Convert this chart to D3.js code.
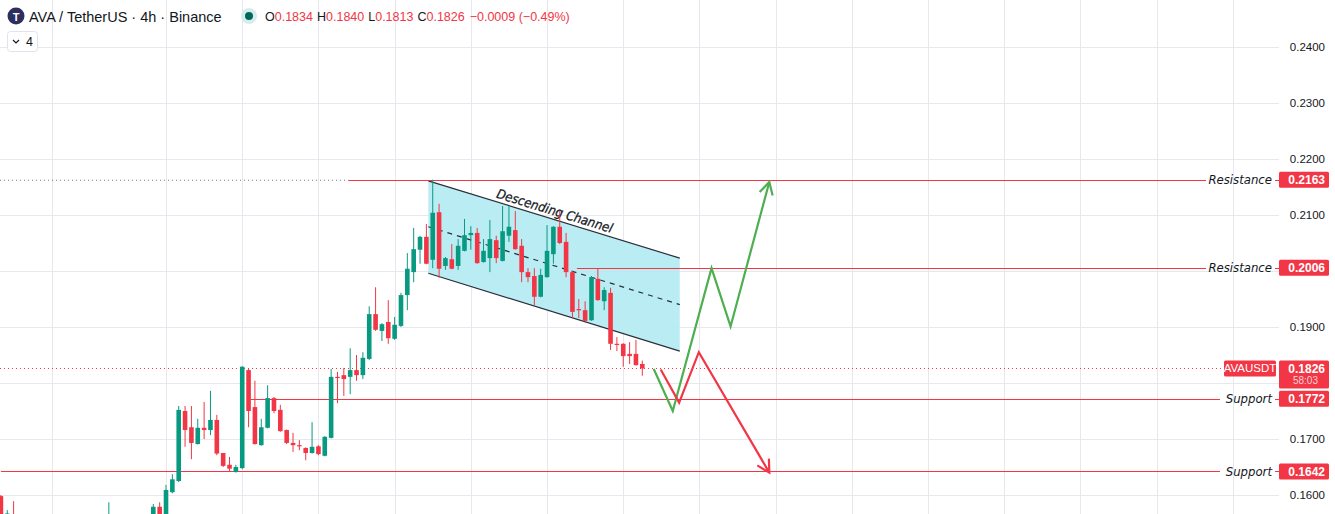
<!DOCTYPE html>
<html>
<head>
<meta charset="utf-8">
<script src="https://cdn.jsdelivr.net/npm/d3@7"></script>
<style>
  body { margin: 0; background: #fff; overflow: hidden; }
  svg { display: block; font-family: "Liberation Sans", Arial, sans-serif; }
</style>
</head>
<body>
<svg id="chart" width="1335" height="514"></svg>
<script>
// candle values, left to right (4h bars)
const opens = [0.1598,0.1561,0.1560,0.1550,0.1540,0.1548,0.1542,0.1535,0.1544,0.1539,0.1546,0.1551,0.1545,0.1549,0.1543,0.1547,0.1541,0.1544,0.1555,0.1548,0.1551,0.1546,0.1553,0.1549,
  0.1554,0.1579,0.1560,0.1605,0.1625,0.1750,0.1721,0.1691,0.1720,0.1716,0.1734,0.1675,0.1654,0.1641,0.1648,0.1823,0.1757,0.1689,0.1720,0.1773,0.1752,0.1716,0.1693,0.1689,0.1684,0.1675,0.1687,0.1670,
  0.1702,0.1811,0.1814,0.1811,0.1823,0.1814,0.1843,0.1923,0.1893,0.1909,0.1879,0.1902,0.1957,0.1998,0.2038,0.2061,0.2020,0.2105,0.2009,0.2021,0.2009,0.2036,0.2064,0.2068,0.2016,0.2023,0.2055,0.2018,
  0.2063,0.2073,0.2045,0.1998,0.1991,0.1954,0.1989,0.2030,0.2079,0.2052,0.1998,0.1932,0.1930,0.1912,0.1986,0.1946,0.1961,0.1870,0.1870,0.1852,0.1852,0.1834];
const highs = [0.1600,0.1573,0.1589,0.1556,0.1552,0.1555,0.1550,0.1546,0.1553,0.1548,0.1557,0.1558,0.1552,0.1556,0.1551,0.1555,0.1550,0.1587,0.1560,0.1556,0.1559,0.1555,0.1560,0.1558,
  0.1584,0.1587,0.1618,0.1637,0.1759,0.1759,0.1759,0.1736,0.1766,0.1786,0.1743,0.1675,0.1668,0.1654,0.1830,0.1825,0.1804,0.1736,0.1796,0.1775,0.1761,0.1717,0.1711,0.1698,0.1685,0.1730,0.1689,0.1705,
  0.1825,0.1820,0.1827,0.1862,0.1850,0.1855,0.1937,0.1971,0.1907,0.1948,0.1918,0.1961,0.2032,0.2077,0.2063,0.2084,0.2163,0.2120,0.2025,0.2048,0.2057,0.2093,0.2080,0.2077,0.2057,0.2091,0.2063,0.2116,
  0.2116,0.2107,0.2057,0.2005,0.2005,0.2004,0.2082,0.2080,0.2107,0.2068,0.2000,0.1950,0.1946,0.1991,0.2004,0.1971,0.1970,0.1882,0.1871,0.1873,0.1877,0.1840];
const lows = [0.1556,0.1552,0.1545,0.1535,0.1532,0.1538,0.1530,0.1528,0.1536,0.1531,0.1540,0.1541,0.1537,0.1540,0.1534,0.1539,0.1533,0.1540,0.1542,0.1538,0.1543,0.1539,0.1545,0.1542,
  0.1550,0.1555,0.1555,0.1603,0.1623,0.1686,0.1664,0.1690,0.1700,0.1707,0.1671,0.1650,0.1643,0.1640,0.1646,0.1721,0.1690,0.1688,0.1719,0.1746,0.1713,0.1691,0.1677,0.1680,0.1662,0.1674,0.1671,0.1669,
  0.1701,0.1764,0.1777,0.1780,0.1804,0.1807,0.1841,0.1893,0.1875,0.1870,0.1877,0.1900,0.1930,0.1980,0.2013,0.2012,0.2005,0.1988,0.2002,0.2003,0.2002,0.2035,0.2038,0.2013,0.2015,0.1998,0.2014,0.2017,
  0.2052,0.2038,0.1980,0.1980,0.1939,0.1953,0.1988,0.2013,0.2048,0.1989,0.1916,0.1916,0.1910,0.1911,0.1947,0.1930,0.1859,0.1857,0.1829,0.1834,0.1831,0.1813];
const closes = [0.1562,0.1567,0.1550,0.1540,0.1548,0.1542,0.1535,0.1544,0.1539,0.1546,0.1551,0.1545,0.1549,0.1543,0.1547,0.1541,0.1544,0.1555,0.1548,0.1551,0.1546,0.1553,0.1549,0.1554,
  0.1579,0.1560,0.1609,0.1628,0.1752,0.1716,0.1693,0.1720,0.1716,0.1734,0.1674,0.1652,0.1647,0.1650,0.1829,0.1750,0.1691,0.1721,0.1773,0.1750,0.1714,0.1693,0.1689,0.1688,0.1675,0.1686,0.1673,0.1704,
  0.1811,0.1809,0.1807,0.1823,0.1814,0.1845,0.1923,0.1895,0.1905,0.1880,0.1904,0.1957,0.2004,0.2039,0.2061,0.2013,0.2104,0.2004,0.2023,0.2004,0.2045,0.2064,0.2068,0.2014,0.2036,0.2057,0.2023,0.2071,
  0.2079,0.2039,0.1998,0.1989,0.1954,0.1993,0.2036,0.2079,0.2050,0.1998,0.1927,0.1930,0.1911,0.1989,0.1948,0.1966,0.1870,0.1868,0.1848,0.1848,0.1832,0.1826];

const priceTicks = [0.16, 0.17, 0.18, 0.19, 0.20, 0.21, 0.22, 0.23, 0.24];
const timeGridBars = [8, 26, 38, 50, 62, 74, 86, 98, 110, 122, 134, 146, 158, 170, 182, 194];

// drawings: [bar index, price]
const levels = [
  { price: 0.2163, from: 54.7, label: "Resistance" },
  { price: 0.2006, from: 90.7, label: "Resistance" },
  { price: 0.1772, from: 39.3, label: "Support" },
  { price: 0.1642, from: 0, label: "Support" }
];
const channelTop = [[67.3, 0.2161], [106.9, 0.2023]];
const channelBottom = [[67.3, 0.1996], [106.9, 0.1857]];
const channelMid = [[67.3, 0.2079], [106.9, 0.1940]];
const bullPath = [[102.8, 0.1825], [105.8, 0.1750], [111.9, 0.2005], [114.9, 0.1901], [121.0, 0.2159]];
const bearPath = [[103.9, 0.1824], [106.8, 0.1765], [109.9, 0.1855], [121.0, 0.1640]];
const lastPrice = 0.1826;

const W = 1335, H = 514, plotRight = 1279;
const GREEN = "#089981", RED = "#f23645", GRID = "#e6e8ee", TEXT = "#131722";
const ITALIC_FONT = "DejaVu Sans Condensed, DejaVu Sans";

const x = d3.scaleLinear().domain([0, 101]).range([0.9, 642.3]);
const y = d3.scaleLinear().domain([0.16, 0.24]).range([495, 47]);

const svg = d3.select("#chart");
svg.append("defs").append("clipPath").attr("id", "plot")
  .append("rect").attr("width", plotRight).attr("height", H);

const plot = svg.append("g").attr("clip-path", "url(#plot)");

// grid
plot.selectAll(".hg").data(priceTicks).enter().append("line")
  .attr("x1", 0).attr("x2", plotRight)
  .attr("y1", d => y(d) + 0.5).attr("y2", d => y(d) + 0.5)
  .attr("stroke", GRID);
plot.selectAll(".vg").data(timeGridBars).enter().append("line")
  .attr("x1", d => Math.round(x(d)) + 0.5).attr("x2", d => Math.round(x(d)) + 0.5)
  .attr("y1", 0).attr("y2", H)
  .attr("stroke", GRID);

// channel
const line = d3.line().x(d => x(d[0])).y(d => y(d[1]));
plot.append("path")
  .attr("d", line(channelTop.concat(channelBottom.slice().reverse())) + "Z")
  .attr("fill", "#b2ebf2").attr("fill-opacity", 0.9);
plot.append("path").attr("d", line(channelTop)).attr("stroke", "#2a2e39").attr("stroke-width", 1.2).attr("fill", "none");
plot.append("path").attr("d", line(channelBottom)).attr("stroke", "#2a2e39").attr("stroke-width", 1.2).attr("fill", "none");
plot.append("path").attr("d", line(channelMid)).attr("stroke", "#2a2e39").attr("stroke-width", 1.2)
  .attr("stroke-dasharray", "5,5").attr("fill", "none");
const ang = Math.atan2(y(channelTop[1][1]) - y(channelTop[0][1]), x(channelTop[1][0]) - x(channelTop[0][0])) * 180 / Math.PI;
const cx = x(87), cy = y(channelTop[0][1] + (channelTop[1][1] - channelTop[0][1]) * (87 - 67.3) / 39.6);
plot.append("text")
  .attr("transform", `translate(${cx},${cy - 4}) rotate(${ang})`)
  .attr("text-anchor", "middle").attr("font-size", 13).attr("font-style", "italic")
  .attr("font-family", ITALIC_FONT).attr("fill", TEXT).attr("stroke", TEXT).attr("stroke-width", 0.25)
  .text("Descending Channel");

// reference levels
plot.append("line").attr("x1", 0).attr("x2", x(levels[0].from))
  .attr("y1", y(levels[0].price) + 0.5).attr("y2", y(levels[0].price) + 0.5)
  .attr("stroke", "#787b86").attr("stroke-dasharray", "1,3");
plot.selectAll(".lvl").data(levels).enter().append("line")
  .attr("x1", d => x(d.from)).attr("x2", d => d.label === "Support" ? 1220 : 1206)
  .attr("y1", d => Math.round(y(d.price)) + 0.5).attr("y2", d => Math.round(y(d.price)) + 0.5)
  .attr("stroke", RED);
plot.selectAll(".lvl2").data(levels).enter().append("line")
  .attr("x1", 1275).attr("x2", 1279)
  .attr("y1", d => Math.round(y(d.price)) + 0.5).attr("y2", d => Math.round(y(d.price)) + 0.5)
  .attr("stroke", RED);
plot.selectAll(".lvlt").data(levels).enter().append("text")
  .attr("x", 1272).attr("y", d => y(d.price) + 4.5)
  .attr("text-anchor", "end").attr("font-size", 13).attr("font-style", "italic")
  .attr("font-family", ITALIC_FONT).attr("fill", TEXT)
  .text(d => d.label);
plot.append("line").attr("x1", 0).attr("x2", 1222)
  .attr("y1", Math.round(y(lastPrice)) + 0.5).attr("y2", Math.round(y(lastPrice)) + 0.5)
  .attr("stroke", RED).attr("stroke-dasharray", "1,3");

// candles
const bars = d3.range(opens.length);
const candle = plot.selectAll(".c").data(bars).enter().append("g")
  .attr("fill", i => closes[i] > opens[i] ? GREEN : RED)
  .attr("stroke", i => closes[i] > opens[i] ? GREEN : RED);
candle.append("line")
  .attr("x1", i => x(i)).attr("x2", i => x(i))
  .attr("y1", i => y(highs[i])).attr("y2", i => y(lows[i]))
  .attr("stroke-width", 1);
candle.append("rect")
  .attr("x", i => x(i) - 2.3).attr("width", 4.6)
  .attr("y", i => y(Math.max(opens[i], closes[i])))
  .attr("height", i => Math.max(1.2, Math.abs(y(opens[i]) - y(closes[i]))))
  .attr("stroke", "none");

// projection arrows
function arrow(pts, color) {
  plot.append("path").attr("d", line(pts)).attr("fill", "none")
    .attr("stroke", color).attr("stroke-width", 2.2).attr("stroke-linejoin", "miter");
  const a = pts[pts.length - 2], b = pts[pts.length - 1];
  const dx = x(b[0]) - x(a[0]), dy = y(b[1]) - y(a[1]);
  const th = Math.atan2(dy, dx), len = 14;
  const tip = [x(b[0]), y(b[1])];
  const p1 = [tip[0] - len * Math.cos(th - 0.5), tip[1] - len * Math.sin(th - 0.5)];
  const p2 = [tip[0] - len * Math.cos(th + 0.5), tip[1] - len * Math.sin(th + 0.5)];
  plot.append("path").attr("d", `M${p1}L${tip}L${p2}`).attr("fill", "none")
    .attr("stroke", color).attr("stroke-width", 2.2);
}
arrow(bullPath, "#4caf50");
arrow(bearPath, RED);

// price axis: ticks hidden where a tag covers them
const tags = levels.map(d => d.price).concat([lastPrice]);
const visibleTicks = priceTicks.filter(t => tags.every(p => Math.abs(y(p) - y(t)) > 14));
const axis = svg.append("g");
axis.selectAll("text").data(visibleTicks).enter().append("text")
  .attr("x", 1325).attr("y", d => y(d) + 4).attr("text-anchor", "end")
  .attr("font-size", 11.5).attr("fill", TEXT)
  .text(d => d.toFixed(4));
// last price tag
const ly = y(lastPrice);
axis.append("rect").attr("x", 1279).attr("y", ly - 8).attr("width", 50).attr("height", 28).attr("rx", 1.5).attr("fill", RED);
axis.append("text").attr("x", 1325).attr("y", ly + 4.5).attr("text-anchor", "end")
  .attr("font-size", 12).attr("font-weight", "bold").attr("fill", "#fff").text(lastPrice.toFixed(4));
axis.append("text").attr("x", 1318).attr("y", ly + 15.5).attr("text-anchor", "end")
  .attr("font-size", 10).attr("fill", "#fbd0d4").text("58:03");
axis.append("rect").attr("x", 1224).attr("y", ly - 8).attr("width", 52).attr("height", 16).attr("rx", 1.5).attr("fill", RED);
axis.append("text").attr("x", 1250).attr("y", ly + 4).attr("text-anchor", "middle")
  .attr("font-size", 11.5).attr("fill", "#fff").text("AVAUSDT");
const levelTags = levels.map(d => d.price);
axis.selectAll(".tag").data(levelTags).enter().append("rect")
  .attr("x", 1279).attr("y", d => y(d) - 8).attr("width", 50).attr("height", 16).attr("rx", 1.5)
  .attr("fill", RED);
axis.selectAll(".tagt").data(levelTags).enter().append("text")
  .attr("x", 1325).attr("y", d => y(d) + 4.5).attr("text-anchor", "end")
  .attr("font-size", 12).attr("font-weight", "bold").attr("fill", "#fff")
  .text(d => d.toFixed(4));

// header
const head = svg.append("g");
head.append("circle").attr("cx", 16).attr("cy", 16).attr("r", 8.5).attr("fill", "#2e2f5e");
head.append("text").attr("x", 16).attr("y", 20.5).attr("text-anchor", "middle")
  .attr("font-size", 11).attr("font-weight", "bold").attr("fill", "#fff").text("T");
head.append("text").attr("x", 29).attr("y", 21.5).attr("font-size", 14.5).attr("fill", TEXT)
  .text("AVA / TetherUS · 4h · Binance");
head.append("circle").attr("cx", 249).attr("cy", 16).attr("r", 8).attr("fill", "#d7ede9");
head.append("circle").attr("cx", 249).attr("cy", 16).attr("r", 4).attr("fill", "#00695c");
const ohlc = head.append("text").attr("x", 265).attr("y", 21).attr("font-size", 12.5);
[["O", "0.1834"], ["H", "0.1840"], ["L", "0.1813"], ["C", "0.1826"]].forEach((p, i) => {
  ohlc.append("tspan").attr("fill", TEXT).attr("dx", i ? 4 : 0).text(p[0]);
  ohlc.append("tspan").attr("fill", RED).text(p[1]);
});
ohlc.append("tspan").attr("fill", RED).attr("dx", 5).text("−0.0009 (−0.49%)");
head.append("rect").attr("x", 7.5).attr("y", 31.5).attr("width", 30).attr("height", 20).attr("rx", 3)
  .attr("fill", "#fff").attr("stroke", "#e0e3eb");
head.append("path").attr("d", "M13,40 L16,43 L19,40").attr("fill", "none").attr("stroke", TEXT).attr("stroke-width", 1.2);
head.append("text").attr("x", 26).attr("y", 46).attr("font-size", 12.5).attr("fill", TEXT).text("4");
</script>
</body>
</html>
